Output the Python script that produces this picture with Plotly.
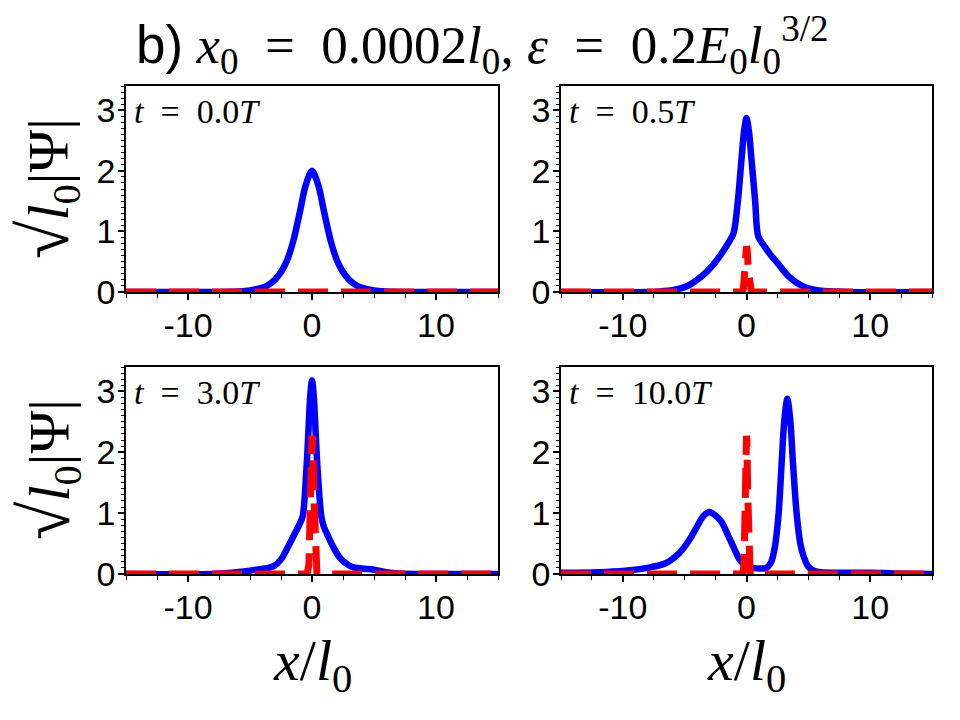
import plotly.graph_objects as go

# ---------------- data ----------------
panel_times = ["0.0", "0.5", "3.0", "10.0"]

x_ticks = [-10, 0, 10]
x_tick_text = ["-10", "0", "10"]
y_ticks = [0, 1, 2, 3]
y_tick_text = ["0", "1", "2", "3"]

# blue solid curves  sqrt(l0)|Psi|
x_b0 = [-15, -10, -8, -6, -5, -4, -3.5, -3, -2.5, -2, -1.5, -1, -0.5, 0,
        0.5, 1, 1.5, 2, 2.5, 3, 3.5, 4, 5, 6, 8, 10, 15]
y_b0 = [0, 0, 0.001, 0.01, 0.027, 0.073, 0.12, 0.2, 0.33, 0.53, 0.85, 1.30, 1.77, 2.0,
        1.77, 1.30, 0.85, 0.53, 0.33, 0.2, 0.12, 0.073, 0.027, 0.01, 0.001, 0, 0]

x_b1 = [-15, -8, -7, -6, -5, -4.5, -4, -3.5, -3, -2.5, -2, -1.5, -1.05, -0.7, -0.4, -0.2, 0,
        0.2, 0.4, 0.7, 0.95, 1.5, 2, 2.5, 3, 3.5, 4, 4.5, 5, 6, 7, 8, 15]
y_b1 = [0, 0, 0.01, 0.03, 0.08, 0.13, 0.2, 0.28, 0.38, 0.5, 0.64, 0.8, 0.97, 1.5, 2.2, 2.65, 2.87,
        2.65, 2.2, 1.5, 0.92, 0.74, 0.6, 0.48, 0.35, 0.24, 0.16, 0.1, 0.06, 0.02, 0.01, 0, 0]

x_b2 = [-15, -8, -6.5, -5.5, -4.5, -3.5, -3, -2.5, -2, -1.5, -1.05, -0.75, -0.45, -0.3, -0.15, 0,
        0.15, 0.3, 0.45, 0.75, 0.95, 1.3, 1.7, 2.2, 2.7, 3.2, 4, 5, 6, 7, 15]
y_b2 = [0, 0, 0.02, 0.04, 0.07, 0.1, 0.14, 0.24, 0.42, 0.62, 0.8, 0.95, 1.72, 2.3, 2.9, 3.18,
        2.9, 2.3, 1.72, 0.95, 0.78, 0.62, 0.45, 0.28, 0.18, 0.12, 0.09, 0.07, 0.03, 0.01, 0]

x_b3 = [-15, -12, -10, -8, -6.5, -5.5, -5, -4.5, -4, -3.5, -3, -2.5, -2, -1.5, -1, -0.5, 0, 0.5,
        1.1, 1.6, 2.0, 2.3, 2.6, 2.85, 3.05, 3.3, 3.55, 3.75, 4.05, 4.35, 4.6, 5.0, 5.5, 6, 8, 10, 12, 15]
y_b3 = [0.02, 0.03, 0.05, 0.1, 0.18, 0.33, 0.45, 0.6, 0.78, 0.95, 1.02, 0.96, 0.85, 0.64, 0.42, 0.22, 0.14, 0.1,
        0.09, 0.1, 0.2, 0.45, 1.0, 1.85, 2.5, 2.88, 2.5, 1.85, 1.0, 0.5, 0.3, 0.12, 0.05, 0.03, 0.02, 0.02, 0.01, 0]

# red dashed curves
x_r0 = [-15, 15]
y_r0 = [0, 0]
x_r1 = [-15, -0.4, -0.25, -0.15, -0.05, 0, 0.05, 0.15, 0.25, 0.4, 15]
y_r1 = [0, 0, 0.05, 0.35, 0.72, 0.75, 0.72, 0.35, 0.05, 0, 0]
x_r2 = [-15, -0.4, -0.25, -0.15, -0.05, 0, 0.05, 0.15, 0.25, 0.4, 15]
y_r2 = [0, 0, 0.15, 1.3, 2.2, 2.27, 2.2, 1.3, 0.15, 0, 0]
x_r3 = [-15, -0.3, -0.2, -0.1, -0.03, 0, 0.03, 0.1, 0.2, 0.3, 15]
y_r3 = [0, 0, 0.15, 1.3, 2.2, 2.27, 2.2, 1.3, 0.15, 0, 0]

blue_x = [x_b0, x_b1, x_b2, x_b3]
blue_y = [y_b0, y_b1, y_b2, y_b3]
red_x = [x_r0, x_r1, x_r2, x_r3]
red_y = [y_r0, y_r1, y_r2, y_r3]

# ---------------- figure ----------------
SERIF = "Liberation Serif"
SANS = "Liberation Sans"
SP = "\u2002"  # en space (wide math spacing around '=')

fig = go.Figure()

xdom = [[126 / 960, 498 / 960], [561 / 960, 932 / 960]]
ydom = [[(720 - 292) / 720, (720 - 86) / 720], [(720 - 574) / 720, (720 - 367) / 720]]

axis_common = dict(showline=True, mirror=True, linecolor="black", linewidth=1.5,
                   showgrid=False, zeroline=False, ticks="outside", tickcolor="black",
                   tickwidth=1.5, ticklen=6, ticklabelstandoff=-4,
                   autorange=False, automargin=False,
                   tickfont=dict(family=SANS, size=34, color="black"))

for i in range(4):
    r, c = divmod(i, 2)
    n = "" if i == 0 else str(i + 1)
    xa = "x" + n
    ya = "y" + n
    fig.add_trace(go.Scatter(x=blue_x[i], y=blue_y[i], mode="lines",
                             line=dict(color="#0000ff", width=6.5, shape="spline", smoothing=0.8),
                             xaxis=xa, yaxis=ya, showlegend=False))
    fig.add_trace(go.Scatter(x=red_x[i], y=red_y[i], mode="lines",
                             line=dict(color="#ff0000", width=7, dash="30px,13px"),
                             xaxis=xa, yaxis=ya, showlegend=False))
    fig.layout["xaxis" + n] = dict(axis_common, domain=xdom[c], anchor=ya, range=[-15, 15],
                                   tickmode="array", tickvals=x_ticks, ticktext=x_tick_text,
                                   minor=dict(tickmode="linear", tick0=0, dtick=2.5, ticklen=4,
                                              ticks="outside", tickwidth=1, tickcolor="black"))
    fig.layout["yaxis" + n] = dict(axis_common, domain=ydom[r], anchor=xa, range=[0, 3.4],
                                   tickmode="array", tickvals=y_ticks, ticktext=y_tick_text,
                                   minor=dict(tickmode="linear", tick0=0, dtick=0.1, ticklen=3,
                                              ticks="outside", tickwidth=1, tickcolor="black"))
    fig.add_annotation(xref=xa + " domain", yref=ya + " domain", x=0.015, y=0.875,
                       xanchor="left", yanchor="middle", showarrow=False,
                       text="<i>t</i>" + SP + "=" + SP + panel_times[i] + "<i>T</i>",
                       font=dict(family=SERIF, size=34, color="black"))

# title
fig.add_annotation(xref="paper", yref="paper", x=0.503, y=1 - 45 / 720, xanchor="center",
                   yanchor="middle", showarrow=False,
                   text=("<span style='font-family:Liberation Sans'>b)</span> "
                         "<i>x</i><sub>0</sub>" + SP + "=" + SP + "0.0002<i>l</i><sub>0</sub>, "
                         "<i>ε</i>" + SP + "=" + SP +
                         "0.2<i>E</i><sub>0</sub><i>l</i><sub>0</sub><sup>3/2</sup>"),
                   font=dict(family=SERIF, size=53, color="black"))

# y labels
for yc in [1 - 189 / 720, 1 - 470 / 720]:
    fig.add_annotation(xref="paper", yref="paper", x=48 / 960, y=yc, xanchor="center",
                       yanchor="middle", showarrow=False, textangle=-90,
                       text="<span style='font-size:70px'>√</span><i>l</i><sub>0</sub>|Ψ|",
                       font=dict(family=SERIF, size=58, color="black"))

# x labels
for xc in [312 / 960, 746 / 960]:
    fig.add_annotation(xref="paper", yref="paper", x=xc, y=1 - 664 / 720, xanchor="center",
                       yanchor="middle", showarrow=False,
                       text="<i>x</i>/<i>l</i><sub>0</sub>",
                       font=dict(family=SERIF, size=58, color="black"))

fig.update_layout(width=960, height=720, autosize=False,
                  margin=dict(l=0, r=0, t=0, b=0, autoexpand=False),
                  paper_bgcolor="white", plot_bgcolor="white")

fig.write_html("out.html", config={"responsive": False})
